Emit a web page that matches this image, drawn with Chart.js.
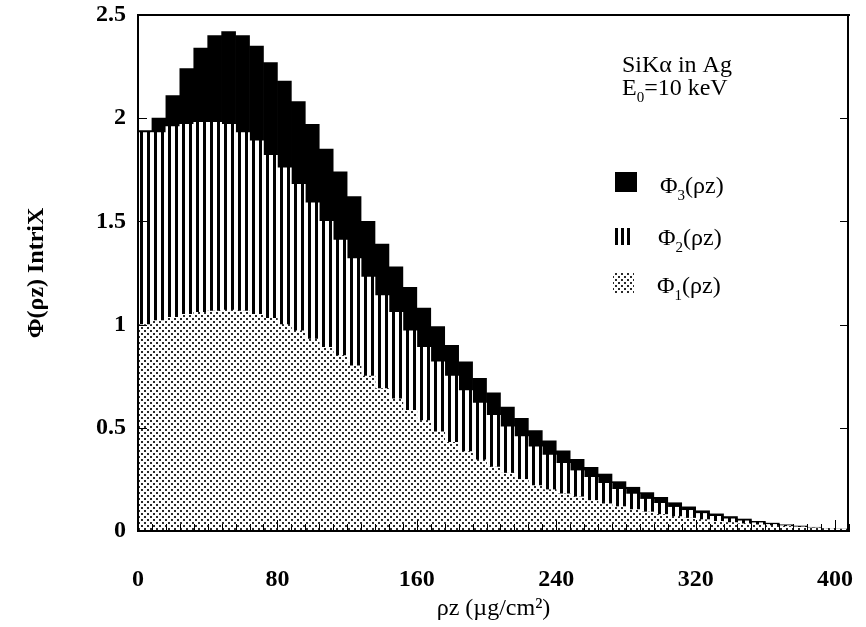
<!DOCTYPE html>
<html>
<head>
<meta charset="utf-8">
<script src="https://cdn.jsdelivr.net/npm/chart.js"></script>
<style>
  html, body { margin: 0; padding: 0; background: #fff; overflow: hidden; }
  #wrap { width: 866px; height: 627px; }
  canvas { display: block; }
</style>
</head>
<body>
<div id="wrap"><canvas id="phiChart" width="866" height="627"></canvas></div>
<script>
  // bin centres in ug/cm2 (bins are 8 ug/cm2 wide)
  const rhoZ = [4, 12, 20, 28, 36, 44, 52, 60, 68, 76, 84, 92, 100, 108, 116, 124, 132,
    140, 148, 156, 164, 172, 180, 188, 196, 204, 212, 220, 228, 236, 244, 252, 260,
    268, 276, 284, 292, 300, 308, 316, 324, 332, 340, 348, 356, 364, 372, 380, 388,
    396, 404];

  // Phi3 (black), total
  const phi3 = [1.94, 2.00, 2.11, 2.24, 2.34, 2.40, 2.42, 2.40, 2.35, 2.27, 2.18, 2.08, 1.97,
    1.85, 1.74, 1.62, 1.50, 1.39, 1.28, 1.18, 1.08, 0.99, 0.90, 0.82, 0.74, 0.67, 0.60,
    0.546, 0.486, 0.437, 0.389, 0.347, 0.309, 0.276, 0.239, 0.212, 0.186, 0.163, 0.137,
    0.117, 0.098, 0.083, 0.070, 0.058, 0.047, 0.038, 0.030, 0.024, 0.018, 0.013, 0.009];

  // Phi2 (vertical stripes)
  const phi2 = [1.93, 1.93, 1.96, 1.97, 1.98, 1.98, 1.97, 1.93, 1.89, 1.82, 1.76, 1.68, 1.59,
    1.50, 1.41, 1.32, 1.23, 1.14, 1.06, 0.97, 0.89, 0.82, 0.75, 0.68, 0.62, 0.56, 0.505,
    0.457, 0.408, 0.368, 0.328, 0.292, 0.260, 0.231, 0.202, 0.179, 0.154, 0.134, 0.115,
    0.100, 0.085, 0.071, 0.059, 0.049, 0.040, 0.032, 0.026, 0.020, 0.015, 0.011, 0.007];

  // Phi1 (dots)
  const phi1 = [1.00, 1.02, 1.035, 1.05, 1.06, 1.065, 1.07, 1.065, 1.05, 1.03, 1.00, 0.97, 0.93,
    0.89, 0.85, 0.80, 0.75, 0.69, 0.64, 0.585, 0.535, 0.48, 0.43, 0.385, 0.345, 0.31, 0.28,
    0.25, 0.22, 0.20, 0.18, 0.165, 0.148, 0.132, 0.118, 0.104, 0.092, 0.080, 0.070, 0.062,
    0.055, 0.047, 0.041, 0.035, 0.030, 0.026, 0.022, 0.018, 0.015, 0.012, 0.009];

  const xTicks = [0, 80, 160, 240, 320, 400];
  const yTicks = [0, 0.5, 1, 1.5, 2, 2.5];

  // fill patterns like the printed figure
  function stripePattern() {
    const c = document.createElement("canvas");
    c.width = 7; c.height = 4;
    const g = c.getContext("2d");
    g.fillStyle = "#fff"; g.fillRect(0, 0, 7, 4);
    g.fillStyle = "#000"; g.fillRect(0, 0, 3, 4);
    return g.createPattern(c, "repeat");
  }
  function dotPattern() {
    const c = document.createElement("canvas");
    c.width = 6; c.height = 6;
    const g = c.getContext("2d");
    g.fillStyle = "#fff"; g.fillRect(0, 0, 6, 6);
    g.fillStyle = "#2a2a2a";
    g.fillRect(0, 0, 2, 2);
    g.fillRect(3, 3, 2, 2);
    return g.createPattern(c, "repeat");
  }
  const stripes = stripePattern();
  const dots = dotPattern();

  const serif = "'Liberation Serif', 'DejaVu Serif', serif";

  function points(vals) {
    return rhoZ.map((x, i) => ({ x: x, y: vals[i] }));
  }

  // text with a subscript part
  function drawSub(ctx, x, y, parts) {
    for (const p of parts) {
      if (p.sub) {
        ctx.font = "15px " + serif;
        ctx.fillText(p.t, x, y + 7);
      } else {
        ctx.font = "24px " + serif;
        ctx.fillText(p.t, x, y);
      }
      x += ctx.measureText(p.t).width;
    }
  }

  const decor = {
    id: "decor",
    afterDraw(chart) {
      const { ctx, chartArea: a, scales: { x, y } } = chart;
      const l = Math.round(a.left), r = Math.round(a.right);
      const t = Math.round(a.top), b = Math.round(a.bottom);
      ctx.save();
      ctx.strokeStyle = "#000";
      ctx.fillStyle = "#000";

      // inward tick marks
      ctx.lineWidth = 1;
      ctx.beginPath();
      for (let v = 0; v <= 408; v += 8) {
        const px = Math.round(x.getPixelForValue(v)) + 0.5;
        const len = xTicks.includes(v) ? 11 : 7;
        ctx.moveTo(px, b);
        ctx.lineTo(px, b - len);
      }
      for (const v of yTicks) {
        const py = Math.round(y.getPixelForValue(v)) + 0.5;
        ctx.moveTo(l, py); ctx.lineTo(l + 9, py);
        ctx.moveTo(r, py); ctx.lineTo(r - 9, py);
      }
      ctx.stroke();

      // frame, drawn as filled strips
      ctx.fillRect(l - 1, t - 1, r - l + 2, 2);
      ctx.fillRect(l - 1, b - 1, r - l + 2, 2);
      ctx.fillRect(l - 1, t - 1, 2, b - t + 2);
      ctx.fillRect(r - 2, t - 1, 2, b - t + 2);

      // annotation
      ctx.textBaseline = "alphabetic";
      ctx.textAlign = "left";
      ctx.font = "24px " + serif;
      ctx.fillText("SiKα in Ag", 622, 72);
      drawSub(ctx, 622, 95, [{ t: "E" }, { t: "0", sub: true }, { t: "=10 keV" }]);

      // legend swatches
      ctx.fillRect(615, 172, 22, 20);
      ctx.fillRect(615, 228, 3, 17);
      ctx.fillRect(621, 228, 3, 17);
      ctx.fillRect(627, 228, 3, 17);
      ctx.fillStyle = dots;
      ctx.fillRect(613, 273, 21, 21);
      ctx.fillStyle = "#000";

      drawSub(ctx, 660, 193, [{ t: "Φ" }, { t: "3", sub: true }, { t: "(ρz)" }]);
      drawSub(ctx, 658, 245, [{ t: "Φ" }, { t: "2", sub: true }, { t: "(ρz)" }]);
      drawSub(ctx, 657, 293, [{ t: "Φ" }, { t: "1", sub: true }, { t: "(ρz)" }]);
      ctx.restore();
    }
  };

  const ctx = document.getElementById("phiChart").getContext("2d");

  new Chart(ctx, {
    type: "bar",
    data: {
      datasets: [
        { label: "Φ1(ρz)", data: points(phi1), backgroundColor: dots },
        { label: "Φ2(ρz)", data: points(phi2), backgroundColor: stripes },
        { label: "Φ3(ρz)", data: points(phi3), backgroundColor: "#000" },
      ],
    },
    options: {
      responsive: false,
      animation: false,
      layout: { padding: { top: 15, right: 17, left: 0, bottom: 0 } },
      datasets: {
        bar: { grouped: false, categoryPercentage: 1, barPercentage: 1, borderWidth: 0 },
      },
      plugins: { legend: { display: false }, tooltip: { enabled: false } },
      scales: {
        x: {
          type: "linear",
          min: 0,
          max: 408,
          offset: false,
          afterBuildTicks: (s) => { s.ticks = xTicks.map((v) => ({ value: v })); },
          afterFit: (s) => { s.height = 96; s.paddingLeft = 0; s.paddingRight = 0; },
          grid: { display: false, drawTicks: false },
          border: { display: false },
          ticks: {
            color: "#000",
            padding: 34,
            maxRotation: 0,
            callback: (v) => String(v),
            font: { family: serif, size: 24, weight: "bold" },
          },
          title: {
            display: true,
            text: "ρz (µg/cm²)",
            color: "#000",
            padding: { top: 0, bottom: 4 },
            font: { family: serif, size: 24 },
          },
        },
        y: {
          min: 0,
          max: 2.5,
          afterBuildTicks: (s) => { s.ticks = yTicks.map((v) => ({ value: v })); },
          afterFit: (s) => { s.width = 138; s.paddingTop = 0; s.paddingBottom = 0; },
          grid: { display: false, drawTicks: false },
          border: { display: false },
          ticks: {
            color: "#000",
            padding: 12,
            callback: (v) => String(v),
            font: { family: serif, size: 24, weight: "bold" },
          },
          title: {
            display: true,
            text: "Φ(ρz) IntriX",
            color: "#000",
            padding: { top: 22, bottom: 0 },
            font: { family: serif, size: 24, weight: "bold" },
          },
        },
      },
    },
    plugins: [decor],
  });
</script>
</body>
</html>
